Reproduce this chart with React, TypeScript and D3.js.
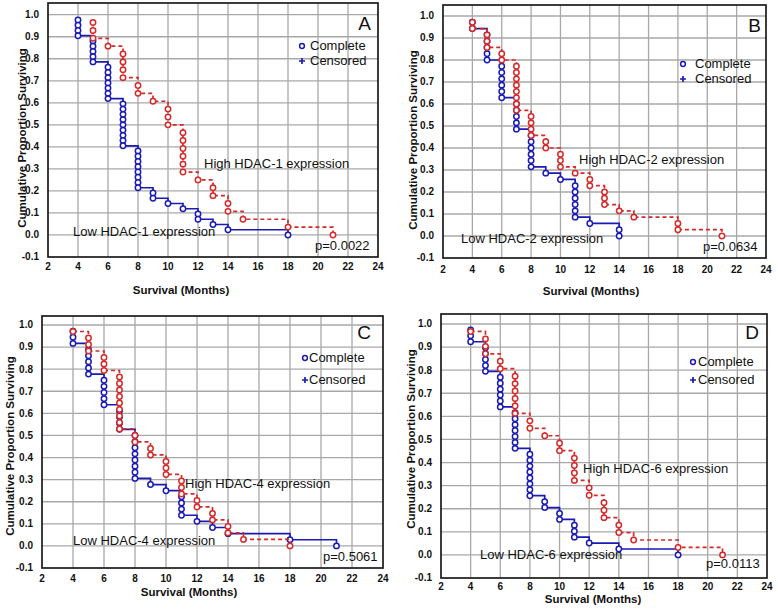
import * as d3 from 'd3'

// months with deaths and number of deaths at each, per group
const hdac1LowTimes = [4, 5, 6, 7, 8, 9, 10, 11, 12, 13, 14, 18]
const hdac1LowDeaths = [4, 5, 7, 9, 8, 2, 1, 1, 2, 1, 1, 1]
const hdac1HighTimes = [5, 6, 7, 8, 9, 10, 11, 12, 13, 14, 15, 18, 21]
const hdac1HighDeaths = [3, 1, 4, 2, 1, 3, 6, 1, 2, 2, 1, 1, 1]

const hdac2LowTimes = [4, 5, 6, 7, 8, 9, 10, 11, 12, 14]
const hdac2LowDeaths = [2, 5, 6, 5, 6, 1, 1, 6, 1, 2]
const hdac2HighTimes = [4, 5, 6, 7, 8, 9, 10, 11, 12, 13, 14, 15, 18, 21]
const hdac2HighDeaths = [2, 3, 2, 8, 4, 2, 3, 1, 2, 3, 1, 1, 2, 1]

const hdac4LowTimes = [4, 5, 6, 7, 8, 9, 10, 11, 12, 13, 14, 18, 21]
const hdac4LowDeaths = [3, 5, 5, 4, 8, 1, 1, 4, 1, 1, 1, 1, 1]
const hdac4HighTimes = [4, 5, 6, 7, 8, 9, 10, 11, 12, 13, 14, 15, 18]
const hdac4HighDeaths = [1, 3, 3, 9, 2, 2, 3, 3, 2, 2, 2, 1, 1]

const hdac6LowTimes = [4, 5, 6, 7, 8, 9, 10, 11, 12, 14, 18]
const hdac6LowDeaths = [3, 5, 6, 7, 8, 2, 2, 3, 1, 1, 1]
const hdac6HighTimes = [4, 5, 6, 7, 8, 9, 10, 11, 12, 13, 14, 15, 18, 21]
const hdac6HighDeaths = [1, 3, 2, 6, 2, 1, 2, 4, 2, 3, 2, 1, 1, 1]

const xTicks = [2, 4, 6, 8, 10, 12, 14, 16, 18, 20, 22, 24]
const yTicks = [-0.1, 0, 0.1, 0.2, 0.3, 0.4, 0.5, 0.6, 0.7, 0.8, 0.9, 1.0]

const panelLetters = ['A', 'B', 'C', 'D']
const hdacNames = ['HDAC-1', 'HDAC-2', 'HDAC-4', 'HDAC-6']
const pValues = ['p=0.0022', 'p=0.0634', 'p=0.5061', 'p=0.0113']

const lowGroups = [
  [hdac1LowTimes, hdac1LowDeaths],
  [hdac2LowTimes, hdac2LowDeaths],
  [hdac4LowTimes, hdac4LowDeaths],
  [hdac6LowTimes, hdac6LowDeaths],
]
const highGroups = [
  [hdac1HighTimes, hdac1HighDeaths],
  [hdac2HighTimes, hdac2HighDeaths],
  [hdac4HighTimes, hdac4HighDeaths],
  [hdac6HighTimes, hdac6HighDeaths],
]

// where each panel sits on the page
const layout = [
  { x0: 48, x1: 378, bottom: 257, y1: 14.7, top: 3, tickY: 270, xLab: [181, 294], yLab: [22, 138],
    leg: [302, 310, 50, 65], letter: [371, 30], high: [204, 168], low: [73, 236], p: [315, 250] },
  { x0: 443, x1: 766, bottom: 258, y1: 16, top: 5, tickY: 273, xLab: [591, 295], yLab: [413, 140],
    leg: [683, 695, 68, 83], letter: [761, 32], high: [579, 164], low: [461, 243], p: [703, 251] },
  { x0: 42, x1: 383, bottom: 568, y1: 325, top: 316, tickY: 582, xLab: [189, 596], yLab: [10, 446],
    leg: [305, 309, 362, 384], letter: [371, 339], high: [185, 488], low: [73, 545], p: [323, 561] },
  { x0: 441, x1: 767, bottom: 578, y1: 324, top: 314, tickY: 590, xLab: [593, 603], yLab: [411, 439],
    leg: [693, 698, 366, 384], letter: [759, 339], high: [583, 473], low: [480, 559], p: [706, 568] },
]

const BLUE = '#1a1ab4'
const RED = '#d42a2a'
const FONT = '"Liberation Sans", Arial, sans-serif'

function steps(times: number[], deaths: number[]) {
  const n = d3.sum(deaths)
  const cum = d3.cumsum(deaths)
  const pts: [number, number][] = [[times[0], 1 - 1 / n]]
  const circles: [number, number][] = []
  times.forEach((t, i) => {
    pts.push([t, 1 - cum[i] / n])
    const start = i === 0 ? 0 : cum[i - 1]
    for (let k = start + 1; k <= cum[i]; k++) circles.push([t, 1 - k / n])
  })
  return { pts, circles }
}

function Panel({ i }: { i: number }) {
  const L = layout[i]
  const x = d3.scaleLinear().domain([2, 24]).range([L.x0, L.x1])
  const y = d3.scaleLinear().domain([-0.1, 1.0]).range([L.bottom, L.y1])
  const line = d3.line<[number, number]>().x(d => x(d[0])).y(d => y(d[1])).curve(d3.curveStepAfter)
  const low = steps(lowGroups[i][0], lowGroups[i][1])
  const high = steps(highGroups[i][0], highGroups[i][1])
  const name = hdacNames[i]

  return (
    <g fontFamily={FONT}>
      <rect x={L.x0} y={L.top} width={L.x1 - L.x0} height={L.bottom - L.top} fill="#fff" />
      {xTicks.slice(1, -1).map(t => (
        <line key={'gx' + t} x1={x(t)} x2={x(t)} y1={L.top} y2={L.bottom} stroke="#a8a8a8" strokeWidth={1.3} />
      ))}
      {yTicks.slice(1).map(t => (
        <line key={'gy' + t} x1={L.x0} x2={L.x1} y1={y(t)} y2={y(t)} stroke="#a8a8a8" strokeWidth={1.3} />
      ))}
      <rect x={L.x0} y={L.top} width={L.x1 - L.x0} height={L.bottom - L.top} fill="none" stroke="#1a1a1a" strokeWidth={1.7} />

      {xTicks.map(t => (
        <text key={'tx' + t} x={x(t)} y={L.tickY} fontSize={10} fontWeight="bold" textAnchor="middle" fill="#111">{t}</text>
      ))}
      {yTicks.map(t => (
        <text key={'ty' + t} x={L.x0 - 9} y={y(t) + 3.4} fontSize={10} fontWeight="bold" textAnchor="end" fill="#111">{t.toFixed(1)}</text>
      ))}

      <path d={line(low.pts) || ''} fill="none" stroke={BLUE} strokeWidth={1.7} />
      {low.circles.map((c, k) => (
        <circle key={'lc' + k} cx={x(c[0])} cy={y(c[1])} r={2.7} fill="#fff" stroke={BLUE} strokeWidth={1.5} />
      ))}
      <path d={line(high.pts) || ''} fill="none" stroke={RED} strokeWidth={1.7} strokeDasharray="4,3" />
      {high.circles.map((c, k) => (
        <circle key={'hc' + k} cx={x(c[0])} cy={y(c[1])} r={2.7} fill="#fff" stroke={RED} strokeWidth={1.5} />
      ))}

      <text x={L.high[0]} y={L.high[1]} fontSize={13} fill="#111">{`High ${name} expression`}</text>
      <text x={L.low[0]} y={L.low[1]} fontSize={13} fill="#111">{`Low ${name} expression`}</text>
      <text x={L.p[0]} y={L.p[1]} fontSize={13} fill="#111">{pValues[i]}</text>
      <text x={L.letter[0]} y={L.letter[1]} fontSize={19} textAnchor="end" fill="#111">{panelLetters[i]}</text>

      <circle cx={L.leg[0]} cy={L.leg[2] - 4} r={2.4} fill="#fff" stroke={BLUE} strokeWidth={1.5} />
      <path d={`M${L.leg[0] - 3},${L.leg[3] - 4}h6M${L.leg[0]},${L.leg[3] - 7}v6`} stroke={BLUE} strokeWidth={1.7} />
      <text x={L.leg[1]} y={L.leg[2]} fontSize={13} fill="#111">Complete</text>
      <text x={L.leg[1]} y={L.leg[3]} fontSize={13} fill="#111">Censored</text>

      <text x={L.xLab[0]} y={L.xLab[1]} fontSize={11.5} fontWeight="bold" textAnchor="middle" fill="#111">Survival (Months)</text>
      <text transform={`translate(${L.yLab[0]},${L.yLab[1]}) rotate(-90)`} fontSize={11.5} fontWeight="bold"
        textAnchor="middle" dominantBaseline="central" fill="#111">Cumulative Proportion Surviving</text>
    </g>
  )
}

export default function App() {
  return (
    <svg width={778} height={612} style={{ display: 'block', position: 'absolute', left: 0, top: 0, background: '#fff' }}>
      <rect width={778} height={612} fill="#fff" />
      {panelLetters.map((_, i) => <Panel key={i} i={i} />)}
    </svg>
  )
}
